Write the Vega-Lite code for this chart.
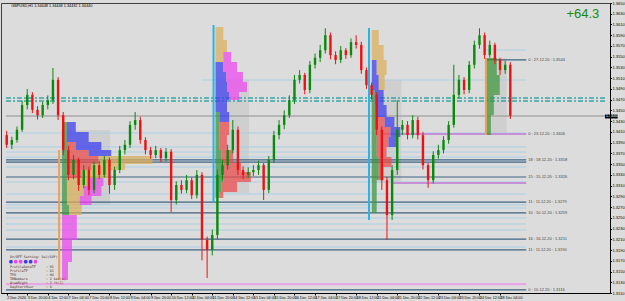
{
 "$schema": "https://vega.github.io/schema/vega-lite/v6.json",
 "width": 609, "height": 290,
 "autosize": {"type": "none"},
 "padding": {"left": 1, "top": 3, "right": 15, "bottom": 8},
 "background": "#dcdcdc",
 "config": {"view": {"stroke": "#404040", "strokeWidth": 1}, "font": "Liberation Sans"},
 "resolve": {"scale": {"color": "independent"}},
 "datasets": {
  "candles": [
   {"t":0,"o":1.3404,"h":1.3412,"l":1.3380,"c":1.3386},
   {"t":4,"o":1.3386,"h":1.3401,"l":1.3378,"c":1.3395},
   {"t":8,"o":1.3395,"h":1.3420,"l":1.3390,"c":1.3414},
   {"t":12,"o":1.3414,"h":1.3468,"l":1.3410,"c":1.3460},
   {"t":16,"o":1.3460,"h":1.3490,"l":1.3452,"c":1.3479},
   {"t":20,"o":1.3479,"h":1.3484,"l":1.3445,"c":1.3451},
   {"t":24,"o":1.3451,"h":1.3458,"l":1.3433,"c":1.3441},
   {"t":28,"o":1.3441,"h":1.3466,"l":1.3436,"c":1.3460},
   {"t":32,"o":1.3460,"h":1.3478,"l":1.3452,"c":1.3469},
   {"t":36,"o":1.3469,"h":1.3529,"l":1.3462,"c":1.3507},
   {"t":40,"o":1.3507,"h":1.3512,"l":1.3432,"c":1.3441},
   {"t":44,"o":1.3441,"h":1.3447,"l":1.3367,"c":1.3376},
   {"t":48,"o":1.3376,"h":1.3384,"l":1.3320,"c":1.3330},
   {"t":52,"o":1.3330,"h":1.3367,"l":1.3322,"c":1.3358},
   {"t":56,"o":1.3358,"h":1.3362,"l":1.3300,"c":1.3311},
   {"t":60,"o":1.3311,"h":1.3348,"l":1.3305,"c":1.3339},
   {"t":64,"o":1.3339,"h":1.3345,"l":1.3292,"c":1.3302},
   {"t":68,"o":1.3302,"h":1.3355,"l":1.3296,"c":1.3348},
   {"t":72,"o":1.3348,"h":1.3356,"l":1.3322,"c":1.3330},
   {"t":76,"o":1.3330,"h":1.3365,"l":1.3325,"c":1.3358},
   {"t":80,"o":1.3358,"h":1.3362,"l":1.3295,"c":1.3311},
   {"t":84,"o":1.3311,"h":1.3345,"l":1.3302,"c":1.3339},
   {"t":88,"o":1.3339,"h":1.3384,"l":1.3333,"c":1.3376},
   {"t":92,"o":1.3376,"h":1.3395,"l":1.3368,"c":1.3386},
   {"t":96,"o":1.3386,"h":1.3430,"l":1.3380,"c":1.3423},
   {"t":100,"o":1.3423,"h":1.3447,"l":1.3414,"c":1.3432},
   {"t":104,"o":1.3432,"h":1.3438,"l":1.3388,"c":1.3395},
   {"t":108,"o":1.3395,"h":1.3400,"l":1.3368,"c":1.3376},
   {"t":112,"o":1.3376,"h":1.3382,"l":1.3360,"c":1.3367},
   {"t":116,"o":1.3367,"h":1.3384,"l":1.3361,"c":1.3376},
   {"t":120,"o":1.3376,"h":1.3380,"l":1.3354,"c":1.3361},
   {"t":124,"o":1.3361,"h":1.3380,"l":1.3355,"c":1.3373},
   {"t":128,"o":1.3373,"h":1.3378,"l":1.3261,"c":1.3283},
   {"t":132,"o":1.3283,"h":1.3318,"l":1.3275,"c":1.3311},
   {"t":136,"o":1.3311,"h":1.3320,"l":1.3295,"c":1.3302},
   {"t":140,"o":1.3302,"h":1.3330,"l":1.3296,"c":1.3320},
   {"t":144,"o":1.3320,"h":1.3325,"l":1.3285,"c":1.3292},
   {"t":148,"o":1.3292,"h":1.3339,"l":1.3286,"c":1.3330},
   {"t":152,"o":1.3330,"h":1.3335,"l":1.3171,"c":1.3209},
   {"t":156,"o":1.3209,"h":1.3215,"l":1.3138,"c":1.3190},
   {"t":160,"o":1.3190,"h":1.3228,"l":1.3180,"c":1.3218},
   {"t":164,"o":1.3218,"h":1.3340,"l":1.3210,"c":1.3330},
   {"t":168,"o":1.3330,"h":1.3358,"l":1.3320,"c":1.3348},
   {"t":172,"o":1.3348,"h":1.3386,"l":1.3340,"c":1.3376},
   {"t":176,"o":1.3376,"h":1.3432,"l":1.3370,"c":1.3414},
   {"t":180,"o":1.3414,"h":1.3420,"l":1.3330,"c":1.3339},
   {"t":184,"o":1.3339,"h":1.3346,"l":1.3322,"c":1.3330},
   {"t":188,"o":1.3330,"h":1.3344,"l":1.3324,"c":1.3335},
   {"t":192,"o":1.3335,"h":1.3348,"l":1.3328,"c":1.3339},
   {"t":196,"o":1.3339,"h":1.3356,"l":1.3330,"c":1.3348},
   {"t":200,"o":1.3348,"h":1.3352,"l":1.3283,"c":1.3302},
   {"t":204,"o":1.3302,"h":1.3365,"l":1.3296,"c":1.3358},
   {"t":208,"o":1.3358,"h":1.3412,"l":1.3352,"c":1.3404},
   {"t":212,"o":1.3404,"h":1.3432,"l":1.3396,"c":1.3423},
   {"t":216,"o":1.3423,"h":1.3450,"l":1.3415,"c":1.3441},
   {"t":220,"o":1.3441,"h":1.3478,"l":1.3436,"c":1.3469},
   {"t":224,"o":1.3469,"h":1.3516,"l":1.3462,"c":1.3507},
   {"t":228,"o":1.3507,"h":1.3525,"l":1.3500,"c":1.3516},
   {"t":232,"o":1.3516,"h":1.3520,"l":1.3480,"c":1.3488},
   {"t":236,"o":1.3488,"h":1.3542,"l":1.3482,"c":1.3535},
   {"t":240,"o":1.3535,"h":1.3556,"l":1.3528,"c":1.3548},
   {"t":244,"o":1.3548,"h":1.3572,"l":1.3540,"c":1.3562},
   {"t":248,"o":1.3562,"h":1.3603,"l":1.3556,"c":1.3590},
   {"t":252,"o":1.3590,"h":1.3595,"l":1.3545,"c":1.3553},
   {"t":256,"o":1.3553,"h":1.3560,"l":1.3536,"c":1.3544},
   {"t":260,"o":1.3544,"h":1.3570,"l":1.3538,"c":1.3562},
   {"t":264,"o":1.3562,"h":1.3566,"l":1.3546,"c":1.3553},
   {"t":268,"o":1.3553,"h":1.3584,"l":1.3548,"c":1.3577},
   {"t":272,"o":1.3577,"h":1.3590,"l":1.3565,"c":1.3572},
   {"t":276,"o":1.3572,"h":1.3578,"l":1.3518,"c":1.3525},
   {"t":280,"o":1.3525,"h":1.3530,"l":1.3490,"c":1.3497},
   {"t":284,"o":1.3497,"h":1.3502,"l":1.3470,"c":1.3479},
   {"t":288,"o":1.3479,"h":1.3484,"l":1.3404,"c":1.3414},
   {"t":292,"o":1.3414,"h":1.3420,"l":1.3302,"c":1.3320},
   {"t":296,"o":1.3320,"h":1.3326,"l":1.3209,"c":1.3255},
   {"t":300,"o":1.3255,"h":1.3348,"l":1.3246,"c":1.3339},
   {"t":304,"o":1.3339,"h":1.3469,"l":1.3330,"c":1.3414},
   {"t":308,"o":1.3414,"h":1.3432,"l":1.3404,"c":1.3423},
   {"t":312,"o":1.3423,"h":1.3430,"l":1.3396,"c":1.3404},
   {"t":316,"o":1.3404,"h":1.3441,"l":1.3398,"c":1.3432},
   {"t":320,"o":1.3432,"h":1.3438,"l":1.3396,"c":1.3404},
   {"t":324,"o":1.3404,"h":1.3410,"l":1.3340,"c":1.3348},
   {"t":328,"o":1.3348,"h":1.3352,"l":1.3306,"c":1.3320},
   {"t":332,"o":1.3320,"h":1.3374,"l":1.3314,"c":1.3367},
   {"t":336,"o":1.3367,"h":1.3386,"l":1.3360,"c":1.3376},
   {"t":340,"o":1.3376,"h":1.3402,"l":1.3370,"c":1.3395},
   {"t":344,"o":1.3395,"h":1.3430,"l":1.3388,"c":1.3423},
   {"t":348,"o":1.3423,"h":1.3535,"l":1.3418,"c":1.3479},
   {"t":352,"o":1.3479,"h":1.3516,"l":1.3472,"c":1.3507},
   {"t":356,"o":1.3507,"h":1.3512,"l":1.3480,"c":1.3488},
   {"t":360,"o":1.3488,"h":1.3542,"l":1.3482,"c":1.3535},
   {"t":364,"o":1.3535,"h":1.3580,"l":1.3528,"c":1.3572},
   {"t":368,"o":1.3572,"h":1.3603,"l":1.3565,"c":1.3590},
   {"t":372,"o":1.3590,"h":1.3595,"l":1.3546,"c":1.3553},
   {"t":376,"o":1.3553,"h":1.3580,"l":1.3548,"c":1.3572},
   {"t":380,"o":1.3572,"h":1.3576,"l":1.3536,"c":1.3544},
   {"t":384,"o":1.3544,"h":1.3548,"l":1.3516,"c":1.3525},
   {"t":388,"o":1.3525,"h":1.3542,"l":1.3518,"c":1.3535},
   {"t":392,"o":1.3535,"h":1.3540,"l":1.3434,"c":1.3440}
  ],
  "boxes": [
   {"t0":42.3,"t1":80.6,"p0":1.34135,"p1":1.32739},
   {"t0":163.3,"t1":188.6,"p0":1.35066,"p1":1.32962},
   {"t0":283.5,"t1":307.2,"p0":1.35066,"p1":1.33148},
   {"t0":373.0,"t1":389.2,"p0":1.35476,"p1":1.34042}
  ],
  "levels": [
   {"p":1.35625,"t0":371.5,"t1":404.4,"k":"light"},
   {"p":1.35066,"t0":151.8,"t1":404.4,"k":"light"},
   {"p":1.34079,"t0":-0.54,"t1":404.4,"k":"light"},
   {"p":1.33819,"t0":-0.54,"t1":404.4,"k":"light"},
   {"p":1.33725,"t0":-0.54,"t1":404.4,"k":"light"},
   {"p":1.33632,"t0":-0.54,"t1":404.4,"k":"light"},
   {"p":1.33446,"t0":-0.54,"t1":404.4,"k":"light"},
   {"p":1.33167,"t0":-0.54,"t1":404.4,"k":"light"},
   {"p":1.32943,"t0":-0.54,"t1":404.4,"k":"light"},
   {"p":1.32739,"t0":-0.54,"t1":404.4,"k":"light"},
   {"p":1.32683,"t0":-0.54,"t1":404.4,"k":"light"},
   {"p":1.32496,"t0":-0.54,"t1":404.4,"k":"light"},
   {"p":1.32385,"t0":-0.54,"t1":404.4,"k":"light"},
   {"p":1.32273,"t0":-0.54,"t1":404.4,"k":"light"},
   {"p":1.31956,"t0":-0.54,"t1":404.4,"k":"light"},
   {"p":1.35439,"t0":373.0,"t1":404.4,"k":"dark"},
   {"p":1.33577,"t0":-0.54,"t1":404.4,"k":"dark"},
   {"p":1.33539,"t0":-0.54,"t1":404.4,"k":"dark"},
   {"p":1.33260,"t0":-0.54,"t1":404.4,"k":"dark"},
   {"p":1.32794,"t0":-0.54,"t1":404.4,"k":"dark"},
   {"p":1.32590,"t0":-0.54,"t1":404.4,"k":"dark"},
   {"p":1.32105,"t0":-0.54,"t1":404.4,"k":"dark"},
   {"p":1.31901,"t0":-0.54,"t1":404.4,"k":"dark"},
   {"p":1.31156,"t0":-0.54,"t1":404.4,"k":"dark"},
   {"p":1.34731,"t0":-0.54,"t1":465.7,"k":"teal"},
   {"p":1.34675,"t0":-0.54,"t1":465.7,"k":"teal"},
   {"p":1.34396,"t0":-0.54,"t1":465.7,"k":"now"},
   {"p":1.34061,"t0":293.4,"t1":404.4,"k":"violet"},
   {"p":1.33148,"t0":299.5,"t1":404.4,"k":"violet"},
   {"p":1.31267,"t0":-0.54,"t1":404.4,"k":"pink"}
  ],
  "vlines": [
   {"t":161.0,"p0":1.36090,"p1":1.32794,"k":"cyan"},
   {"t":282.0,"p0":1.36034,"p1":1.32459,"k":"cyan"},
   {"t":40.8,"p0":1.33763,"p1":1.31342,"k":"orange"},
   {"t":373.0,"p0":1.35476,"p1":1.34042,"k":"orange"}
  ],
  "profiles": [
   {"t0":43.1,"t1":46.9,"p0":1.34284,"p1":1.34098,"s":"G"},
   {"t0":46.9,"t1":53.8,"p0":1.34284,"p1":1.34098,"s":"B"},
   {"t0":43.1,"t1":46.9,"p0":1.34098,"p1":1.33912,"s":"G"},
   {"t0":46.9,"t1":63.8,"p0":1.34098,"p1":1.33912,"s":"B"},
   {"t0":43.1,"t1":46.9,"p0":1.33912,"p1":1.33763,"s":"G"},
   {"t0":46.9,"t1":53.8,"p0":1.33912,"p1":1.33763,"s":"R"},
   {"t0":53.8,"t1":73.7,"p0":1.33912,"p1":1.33763,"s":"B"},
   {"t0":43.1,"t1":46.9,"p0":1.33763,"p1":1.33651,"s":"G"},
   {"t0":46.9,"t1":63.8,"p0":1.33763,"p1":1.33651,"s":"R"},
   {"t0":63.8,"t1":81.4,"p0":1.33763,"p1":1.33651,"s":"B"},
   {"t0":43.1,"t1":46.9,"p0":1.33651,"p1":1.33502,"s":"G"},
   {"t0":46.9,"t1":71.4,"p0":1.33651,"p1":1.33502,"s":"R"},
   {"t0":71.4,"t1":113.5,"p0":1.33651,"p1":1.33502,"s":"O"},
   {"t0":43.1,"t1":46.9,"p0":1.33502,"p1":1.33390,"s":"G"},
   {"t0":46.9,"t1":66.1,"p0":1.33502,"p1":1.33390,"s":"R"},
   {"t0":66.1,"t1":92.1,"p0":1.33502,"p1":1.33390,"s":"O"},
   {"t0":43.1,"t1":46.9,"p0":1.33390,"p1":1.33241,"s":"G"},
   {"t0":46.9,"t1":58.4,"p0":1.33390,"p1":1.33241,"s":"R"},
   {"t0":58.4,"t1":79.1,"p0":1.33390,"p1":1.33241,"s":"O"},
   {"t0":43.1,"t1":46.9,"p0":1.33241,"p1":1.33092,"s":"G"},
   {"t0":46.9,"t1":63.0,"p0":1.33241,"p1":1.33092,"s":"O"},
   {"t0":63.0,"t1":75.3,"p0":1.33241,"p1":1.33092,"s":"M"},
   {"t0":43.1,"t1":46.9,"p0":1.33092,"p1":1.32906,"s":"G"},
   {"t0":46.9,"t1":59.9,"p0":1.33092,"p1":1.32906,"s":"O"},
   {"t0":59.9,"t1":73.7,"p0":1.33092,"p1":1.32906,"s":"M"},
   {"t0":43.1,"t1":46.9,"p0":1.32906,"p1":1.32739,"s":"G"},
   {"t0":46.9,"t1":56.9,"p0":1.32906,"p1":1.32739,"s":"O"},
   {"t0":56.9,"t1":66.1,"p0":1.32906,"p1":1.32739,"s":"M"},
   {"t0":43.1,"t1":48.5,"p0":1.32739,"p1":1.32552,"s":"G"},
   {"t0":48.5,"t1":58.4,"p0":1.32739,"p1":1.32552,"s":"O"},
   {"t0":43.1,"t1":54.6,"p0":1.32552,"p1":1.32087,"s":"M"},
   {"t0":43.1,"t1":50.8,"p0":1.32087,"p1":1.31677,"s":"M"},
   {"t0":43.1,"t1":47.7,"p0":1.31677,"p1":1.31342,"s":"M"},

   {"t0":162.5,"t1":168.6,"p0":1.36053,"p1":1.35811,"s":"O"},
   {"t0":162.5,"t1":171.5,"p0":1.35811,"p1":1.35588,"s":"O"},
   {"t0":162.5,"t1":168.6,"p0":1.35588,"p1":1.35401,"s":"O"},
   {"t0":168.6,"t1":174.8,"p0":1.35588,"p1":1.35401,"s":"M"},
   {"t0":162.5,"t1":168.6,"p0":1.35401,"p1":1.35215,"s":"B"},
   {"t0":168.6,"t1":179.4,"p0":1.35401,"p1":1.35215,"s":"M"},
   {"t0":162.5,"t1":170.9,"p0":1.35215,"p1":1.35029,"s":"B"},
   {"t0":170.9,"t1":183.9,"p0":1.35215,"p1":1.35029,"s":"M"},
   {"t0":162.5,"t1":171.5,"p0":1.35029,"p1":1.34843,"s":"B"},
   {"t0":171.5,"t1":187.0,"p0":1.35029,"p1":1.34843,"s":"M"},
   {"t0":162.5,"t1":173.2,"p0":1.34843,"p1":1.34694,"s":"B"},
   {"t0":173.2,"t1":180.9,"p0":1.34843,"p1":1.34694,"s":"M"},
   {"t0":162.5,"t1":171.5,"p0":1.34694,"p1":1.34470,"s":"B"},
   {"t0":162.5,"t1":165.6,"p0":1.34470,"p1":1.34284,"s":"G"},
   {"t0":165.6,"t1":173.2,"p0":1.34470,"p1":1.34284,"s":"B"},
   {"t0":162.5,"t1":165.6,"p0":1.34284,"p1":1.34042,"s":"G"},
   {"t0":165.6,"t1":173.2,"p0":1.34284,"p1":1.34042,"s":"R"},
   {"t0":162.5,"t1":165.6,"p0":1.34042,"p1":1.33763,"s":"G"},
   {"t0":165.6,"t1":171.5,"p0":1.34042,"p1":1.33763,"s":"R"},
   {"t0":162.5,"t1":167.1,"p0":1.33763,"p1":1.33521,"s":"G"},
   {"t0":167.1,"t1":176.3,"p0":1.33763,"p1":1.33521,"s":"R"},
   {"t0":162.5,"t1":168.6,"p0":1.33521,"p1":1.33353,"s":"G"},
   {"t0":168.6,"t1":182.4,"p0":1.33521,"p1":1.33353,"s":"R"},
   {"t0":162.5,"t1":168.6,"p0":1.33353,"p1":1.33167,"s":"G"},
   {"t0":168.6,"t1":190.1,"p0":1.33353,"p1":1.33167,"s":"R"},
   {"t0":162.5,"t1":167.1,"p0":1.33167,"p1":1.32981,"s":"G"},
   {"t0":167.1,"t1":179.4,"p0":1.33167,"p1":1.32981,"s":"R"},
   {"t0":162.5,"t1":165.6,"p0":1.32981,"p1":1.32869,"s":"G"},
   {"t0":165.6,"t1":168.6,"p0":1.32981,"p1":1.32869,"s":"R"},

   {"t0":284.2,"t1":289.6,"p0":1.35997,"p1":1.35718,"s":"O"},
   {"t0":284.2,"t1":293.4,"p0":1.35718,"p1":1.35439,"s":"O"},
   {"t0":284.2,"t1":288.0,"p0":1.35439,"p1":1.35159,"s":"B"},
   {"t0":288.0,"t1":295.7,"p0":1.35439,"p1":1.35159,"s":"O"},
   {"t0":284.2,"t1":289.6,"p0":1.35159,"p1":1.34880,"s":"B"},
   {"t0":289.6,"t1":294.2,"p0":1.35159,"p1":1.34880,"s":"O"},
   {"t0":284.2,"t1":286.5,"p0":1.34880,"p1":1.34601,"s":"G"},
   {"t0":286.5,"t1":293.4,"p0":1.34880,"p1":1.34601,"s":"B"},
   {"t0":284.2,"t1":288.0,"p0":1.34601,"p1":1.34377,"s":"G"},
   {"t0":288.0,"t1":295.7,"p0":1.34601,"p1":1.34377,"s":"B"},
   {"t0":284.2,"t1":288.0,"p0":1.34377,"p1":1.34191,"s":"G"},
   {"t0":288.0,"t1":294.2,"p0":1.34377,"p1":1.34191,"s":"R"},
   {"t0":294.2,"t1":301.8,"p0":1.34377,"p1":1.34191,"s":"B"},
   {"t0":284.2,"t1":288.0,"p0":1.34191,"p1":1.34005,"s":"G"},
   {"t0":288.0,"t1":298.7,"p0":1.34191,"p1":1.34005,"s":"R"},
   {"t0":298.7,"t1":306.4,"p0":1.34191,"p1":1.34005,"s":"B"},
   {"t0":284.2,"t1":288.0,"p0":1.34005,"p1":1.33819,"s":"G"},
   {"t0":288.0,"t1":297.2,"p0":1.34005,"p1":1.33819,"s":"R"},
   {"t0":297.2,"t1":303.4,"p0":1.34005,"p1":1.33819,"s":"B"},
   {"t0":284.2,"t1":288.0,"p0":1.33819,"p1":1.33632,"s":"G"},
   {"t0":288.0,"t1":295.7,"p0":1.33819,"p1":1.33632,"s":"R"},
   {"t0":284.2,"t1":289.6,"p0":1.33632,"p1":1.33446,"s":"G"},
   {"t0":289.6,"t1":299.5,"p0":1.33632,"p1":1.33446,"s":"R"},
   {"t0":284.2,"t1":289.6,"p0":1.33446,"p1":1.33204,"s":"G"},
   {"t0":289.6,"t1":293.4,"p0":1.33446,"p1":1.33204,"s":"R"},
   {"t0":284.2,"t1":288.0,"p0":1.33204,"p1":1.32590,"s":"G"},

   {"t0":373.0,"t1":381.5,"p0":1.35476,"p1":1.35159,"s":"G"},
   {"t0":373.0,"t1":383.8,"p0":1.35159,"p1":1.34787,"s":"G"},
   {"t0":373.0,"t1":379.2,"p0":1.34787,"p1":1.34414,"s":"G"},
   {"t0":373.0,"t1":376.9,"p0":1.34414,"p1":1.34042,"s":"G"}
  ],
  "linelabels": [
   {"t":406,"p":1.35439,"s":"0 : 27.12.20 : 1.3544"},
   {"t":406,"p":1.34061,"s":"0 : 23.12.20 : 1.3406"},
   {"t":406,"p":1.33577,"s":"18 : 18.12.20 : 1.3358"},
   {"t":406,"p":1.33260,"s":"15 : 15.12.20 : 1.3326"},
   {"t":406,"p":1.32794,"s":"11 : 11.12.20 : 1.3279"},
   {"t":406,"p":1.32590,"s":"10 : 10.12.20 : 1.3259"},
   {"t":406,"p":1.32105,"s":"16 : 16.12.20 : 1.3211"},
   {"t":406,"p":1.31901,"s":"11 : 11.12.20 : 1.3190"},
   {"t":406,"p":1.31156,"s":"0 : 10.12.20 : 1.3116"}
  ],
  "panel": [
   {"t":2.5,"p":1.31776,"s":"On/OFF Setting: Del(SUP)"},
   {"t":2.5,"p":1.31584,"s":"ProfileDataTF"},
   {"t":2.5,"p":1.31509,"s":"ProfileTF"},
   {"t":2.5,"p":1.31435,"s":"TPO"},
   {"t":2.5,"p":1.31360,"s":"IBNumbers"},
   {"t":2.5,"p":1.31286,"s":"AreaRight"},
   {"t":2.5,"p":1.31211,"s":"DayStartHour"},
   {"t":30.5,"p":1.31584,"s":": H1"},
   {"t":30.5,"p":1.31509,"s":": D1"},
   {"t":30.5,"p":1.31435,"s":": H4"},
   {"t":30.5,"p":1.31360,"s":": 2 bar(s)"},
   {"t":30.5,"p":1.31286,"s":": 2 ft(1)"},
   {"t":30.5,"p":1.31211,"s":": 0"}
  ],
  "dots": [
   {"t":3.3,"p":1.31683,"k":"B"},
   {"t":7.1,"p":1.31683,"k":"M"},
   {"t":10.9,"p":1.31683,"k":"M"},
   {"t":14.8,"p":1.31683,"k":"B"},
   {"t":18.6,"p":1.31683,"k":"B"},
   {"t":22.4,"p":1.31683,"k":"M"}
  ],
  "title": [
   {"t":3.5,"p":1.36440,"s":"GBPUSD,H1  1.34448 1.34448 1.34432 1.34440"}
  ],
  "big": [
   {"t":448.5,"p":1.36295,"s":"+64.3"}
  ],
  "nowbox": [
   {"t0":465.7,"t1":475.6,"p0":1.34425,"p1":1.34350,"t":466.3,"p":1.34388,"s":"1.3440"}
  ]
 },
 "encoding": {
  "x": {"type": "quantitative", "scale": {"domain": [-0.54, 465.7], "nice": false, "zero": false},
   "axis": {"values": [0,16,32,48,64,80,96,112,128,144,160,176,192,208,224,240,256,272,288,304,320,336,352,368,384],
    "labelExpr": "['2 Dec 2020','3 Dec 20:00','4 Dec 12:00','7 Dec 04:00','7 Dec 20:00','8 Dec 12:00','9 Dec 04:00','9 Dec 20:00','10 Dec 12:00','11 Dec 04:00','11 Dec 20:00','14 Dec 12:00','15 Dec 04:00','15 Dec 20:00','16 Dec 12:00','17 Dec 04:00','17 Dec 20:00','18 Dec 12:00','21 Dec 04:00','21 Dec 20:00','22 Dec 12:00','23 Dec 04:00','23 Dec 20:00','24 Dec 12:00','28 Dec 04:00'][round(datum.value/16)]",
    "labelAlign": "left", "labelFontSize": 3.7, "labelColor": "#000", "tickSize": 2, "tickColor": "#000", "labelPadding": 0.5,
    "labelOverlap": false, "title": null, "grid": false, "zindex": 2, "domainColor": "#000"}},
  "y": {"type": "quantitative", "scale": {"domain": [1.311, 1.365], "nice": false, "zero": false},
   "axis": {"orient": "right", "values": [1.311,1.313,1.315,1.317,1.319,1.321,1.323,1.325,1.327,1.329,1.331,1.333,1.335,1.337,1.339,1.341,1.343,1.345,1.347,1.349,1.351,1.353,1.355,1.357,1.359,1.361,1.363,1.365],
    "format": ".4f", "labelFontSize": 4, "labelColor": "#000", "tickSize": 1.5, "tickColor": "#000", "labelPadding": 0.5,
    "labelOverlap": false, "title": null, "grid": false, "zindex": 2, "domainColor": "#000"}}
 },
 "layer": [
  {
   "data": {"name": "boxes"},
   "mark": {"type": "rect", "fill": "#c6c6c6", "opacity": 0.6},
   "encoding": {
    "x": {"field": "t0"},
    "x2": {"field": "t1"},
    "y": {"field": "p0"},
    "y2": {"field": "p1"}
   }
  },
  {
   "data": {"name": "levels"},
   "mark": {"type": "rule"},
   "encoding": {
    "x": {"field": "t0"},
    "x2": {"field": "t1"},
    "y": {"field": "p"},
    "color": {"field": "k", "type": "nominal", "legend": null, "scale": {"domain": ["light","dark","teal","now","violet","pink"], "range": ["#a8d0e6","#3d6383","#3aa6a6","#a8a8a8","#c58fd6","#e8a8e8"]}},
    "strokeWidth": {"field": "k", "type": "nominal", "legend": null, "scale": {"domain": ["light","dark","teal","now","violet","pink"], "range": [1,2.2,1,1,1.5,1]}},
    "strokeDash": {"field": "k", "type": "nominal", "legend": null, "scale": {"domain": ["light","dark","teal","now","violet","pink"], "range": [[1,0],[1,0],[5,2,2,2],[1,0],[1,0],[1,0]]}}
   }
  },
  {
   "data": {"name": "profiles"},
   "mark": {"type": "rect", "opacity": 0.72},
   "encoding": {
    "x": {"field": "t0"},
    "x2": {"field": "t1"},
    "y": {"field": "p0"},
    "y2": {"field": "p1"},
    "color": {"field": "s", "type": "nominal", "legend": null, "scale": {"domain": ["O","M","B","R","G"], "range": ["#dcae5a","#ee44ee","#3a3aee","#ee4a4a","#3c963c"]}}
   }
  },
  {
   "data": {"name": "vlines"},
   "mark": {"type": "rule", "strokeWidth": 2},
   "encoding": {
    "x": {"field": "t"},
    "y": {"field": "p0"},
    "y2": {"field": "p1"},
    "color": {"field": "k", "type": "nominal", "legend": null, "scale": {"domain": ["cyan","orange"], "range": ["#2ab4e6","#f0a050"]}}
   }
  },
  {
   "data": {"name": "candles"},
   "mark": {"type": "rule", "strokeWidth": 1},
   "encoding": {
    "x": {"field": "t"},
    "y": {"field": "l"},
    "y2": {"field": "h"},
    "color": {"condition": {"test": "datum.c >= datum.o", "value": "#0a8a0a"}, "value": "#ee1111"}
   }
  },
  {
   "data": {"name": "candles"},
   "mark": {"type": "bar", "width": 2.4},
   "encoding": {
    "x": {"field": "t"},
    "y": {"field": "o"},
    "y2": {"field": "c"},
    "color": {"condition": {"test": "datum.c >= datum.o", "value": "#0a8a0a"}, "value": "#ee1111"}
   }
  },
  {
   "data": {"name": "linelabels"},
   "mark": {"type": "text", "fontSize": 4, "color": "#444", "align": "left", "baseline": "middle"},
   "encoding": {
    "x": {"field": "t"},
    "y": {"field": "p"},
    "text": {"field": "s"}
   }
  },
  {
   "data": {"name": "panel"},
   "mark": {"type": "text", "fontSize": 3.3, "color": "#333", "align": "left", "baseline": "middle", "font": "DejaVu Sans Mono"},
   "encoding": {
    "x": {"field": "t"},
    "y": {"field": "p"},
    "text": {"field": "s"}
   }
  },
  {
   "data": {"name": "dots"},
   "mark": {"type": "circle", "size": 14, "opacity": 1},
   "encoding": {
    "x": {"field": "t"},
    "y": {"field": "p"},
    "color": {"field": "k", "type": "nominal", "legend": null, "scale": {"domain": ["O","M","B","R","G"], "range": ["#dcae5a","#ee44ee","#3a3aee","#ee4a4a","#3c963c"]}}
   }
  },
  {
   "data": {"name": "title"},
   "mark": {"type": "text", "fontSize": 3.8, "color": "#000", "align": "left", "baseline": "middle"},
   "encoding": {
    "x": {"field": "t"},
    "y": {"field": "p"},
    "text": {"field": "s"}
   }
  },
  {
   "data": {"name": "big"},
   "mark": {"type": "text", "fontSize": 13, "color": "#138a13", "align": "center", "baseline": "middle"},
   "encoding": {
    "x": {"field": "t"},
    "y": {"field": "p"},
    "text": {"field": "s"}
   }
  },
  {
   "data": {"name": "nowbox"},
   "mark": {"type": "rect", "fill": "#000", "clip": false},
   "encoding": {
    "x": {"field": "t0"},
    "x2": {"field": "t1"},
    "y": {"field": "p0"},
    "y2": {"field": "p1"}
   }
  },
  {
   "data": {"name": "nowbox"},
   "mark": {"type": "text", "fontSize": 4, "color": "#fff", "align": "left", "baseline": "middle", "clip": false},
   "encoding": {
    "x": {"field": "t"},
    "y": {"field": "p"},
    "text": {"field": "s"}
   }
  }
 ]
}
